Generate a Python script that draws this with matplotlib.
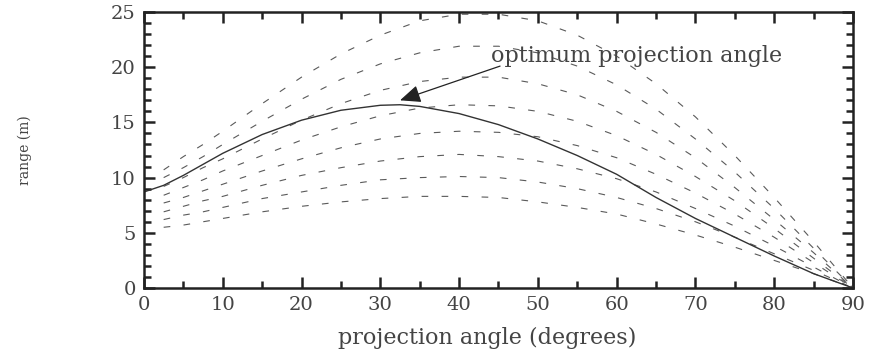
import numpy as np
import matplotlib
matplotlib.use("Agg")
import matplotlib.pyplot as plt
from matplotlib.ticker import MultipleLocator

# projection angle (degrees) for the dashed curves
angles = [2.5, 5, 7.5, 10, 15, 20, 25, 30, 35, 40, 45, 50, 55, 60, 65, 70, 75, 80, 85, 90]

# range (m), lowest to highest
r1 = [5.5, 5.7, 6.0, 6.3, 6.9, 7.4, 7.8, 8.1, 8.3, 8.3, 8.2, 7.8, 7.3, 6.7, 5.8, 4.8, 3.7, 2.5, 1.3, 0.0]
r2 = [6.2, 6.6, 6.9, 7.3, 8.1, 8.7, 9.3, 9.8, 10.0, 10.1, 10.0, 9.6, 9.0, 8.2, 7.2, 6.0, 4.6, 3.1, 1.6, 0.0]
r3 = [6.9, 7.4, 7.9, 8.3, 9.3, 10.2, 10.9, 11.5, 11.9, 12.1, 11.9, 11.5, 10.8, 9.9, 8.7, 7.2, 5.6, 3.8, 1.9, 0.0]
r4 = [7.7, 8.2, 8.8, 9.4, 10.6, 11.7, 12.7, 13.5, 14.0, 14.2, 14.1, 13.7, 12.9, 11.8, 10.3, 8.6, 6.7, 4.6, 2.3, 0.0]
r5 = [8.4, 9.1, 9.8, 10.6, 12.0, 13.4, 14.6, 15.6, 16.3, 16.6, 16.5, 16.0, 15.1, 13.8, 12.1, 10.1, 7.9, 5.4, 2.7, 0.0]
r6 = [9.2, 10.0, 10.9, 11.7, 13.5, 15.2, 16.7, 17.9, 18.7, 19.1, 19.1, 18.5, 17.5, 16.0, 14.1, 11.8, 9.1, 6.2, 3.2, 0.0]
r7 = [10.0, 10.9, 11.9, 13.0, 15.1, 17.1, 18.9, 20.3, 21.3, 21.9, 21.9, 21.3, 20.1, 18.4, 16.2, 13.5, 10.5, 7.2, 3.6, 0.0]
r8 = [10.7, 11.9, 13.0, 14.2, 16.7, 19.1, 21.2, 22.9, 24.2, 24.8, 24.8, 24.2, 22.9, 21.0, 18.5, 15.5, 12.0, 8.2, 4.2, 0.0]

# solid curve
solid_angles = [0, 2.5, 5, 7.5, 10, 15, 20, 25, 30, 32.5, 35, 40, 45, 50, 55, 60, 65, 70, 75, 80, 85, 90]
solid_range = [8.7, 9.3, 10.2, 11.2, 12.2, 13.9, 15.2, 16.1, 16.55, 16.6, 16.45, 15.8, 14.8, 13.5, 12.0, 10.3, 8.2, 6.3, 4.6, 2.9, 1.3, 0.0]

txt = "#444444"
fnt = "DejaVu Serif"

fig = plt.figure(figsize=(8.72, 3.52), dpi=100)
ax = fig.add_axes([0.1651, 0.1818, 0.8131, 0.7841])

for r in [r1, r2, r3, r4, r5, r6, r7, r8]:
    ax.plot(angles, r, color="#5a5a5a", lw=0.8, dashes=(6, 12))
ax.plot(solid_angles, solid_range, color="#333333", lw=1.0)

ax.text(44.0, 21.0, "optimum projection angle", fontsize=16, family=fnt,
        color=txt, va="center", ha="left")
ax.annotate("", xy=(32.5, 17.0), xytext=(45.2, 20.1),
            arrowprops=dict(arrowstyle="-|>,head_length=0.7,head_width=0.3",
                            color="#222222", lw=0.9, mutation_scale=18,
                            shrinkA=0, shrinkB=0))

ax.set_xlim(0, 90)
ax.set_ylim(0, 25)
ax.xaxis.set_major_locator(MultipleLocator(10))
ax.xaxis.set_minor_locator(MultipleLocator(5))
ax.yaxis.set_major_locator(MultipleLocator(5))
ax.yaxis.set_minor_locator(MultipleLocator(1))
ax.tick_params(which="both", direction="in", top=True, right=True, width=1.8, color="#222222")
ax.tick_params(which="major", length=8, labelsize=14, labelcolor=txt, pad=6)
ax.tick_params(which="minor", length=5)
for lab in ax.get_xticklabels() + ax.get_yticklabels():
    lab.set_family(fnt)
for s in ax.spines.values():
    s.set_linewidth(1.8)
    s.set_color("#222222")

ax.set_xlabel("projection angle (degrees)", fontsize=16, family=fnt, color=txt)
ax.xaxis.set_label_coords(0.484, -0.14)
ax.set_ylabel("range (m)", fontsize=10, family=fnt, color=txt)
ax.yaxis.set_label_coords(-0.158, 0.5)

fig.savefig("out.png", dpi=100)
